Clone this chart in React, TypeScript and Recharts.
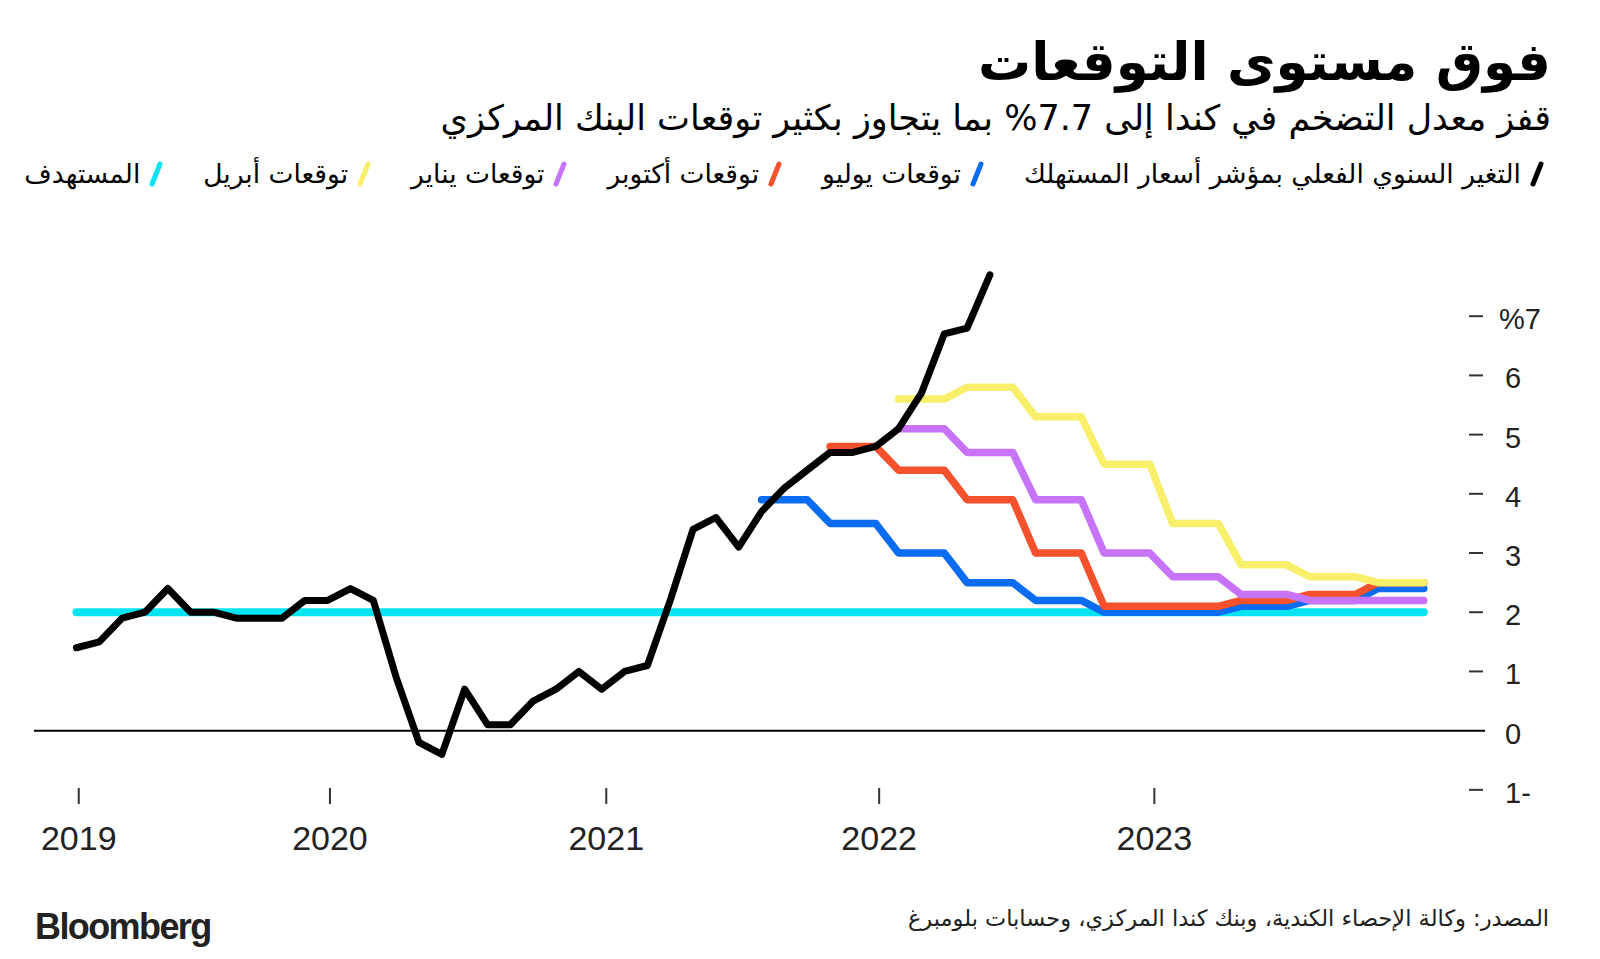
import { LineChart, Line, XAxis, YAxis, ReferenceLine } from 'recharts';

// month index 0 = Jan 2019
const actualCpi = [
  1.4, 1.5, 1.9, 2.0, 2.4, 2.0, 2.0, 1.9, 1.9, 1.9, 2.2, 2.2,
  2.4, 2.2, 0.9, -0.2, -0.4, 0.7, 0.1, 0.1, 0.5, 0.7, 1.0, 0.7,
  1.0, 1.1, 2.2, 3.4, 3.6, 3.1, 3.7, 4.1, 4.4, 4.7, 4.7, 4.8,
  5.1, 5.7, 6.7, 6.8, 7.7,
];

// quarterly projections (each value covers 3 months)
const julyStart = 30;
const julyForecast = [3.9, 3.5, 3.0, 2.5, 2.2, 2.0, 2.0, 2.1, 2.2, 2.4];
const octStart = 33;
const octForecast = [4.8, 4.4, 3.9, 3.0, 2.1, 2.1, 2.2, 2.3, 2.5];
const janStart = 36;
const janForecast = [5.1, 4.7, 3.9, 3.0, 2.6, 2.3, 2.2, 2.2];
const aprStart = 36;
const aprForecast = [5.6, 5.8, 5.3, 4.5, 3.5, 2.8, 2.6, 2.5];

const targetRate = 2;
const monthCount = 60;

const yearTicks = [0.1, 11.1, 23.2, 35.15, 47.2];
const yearLabels = ['2019', '2020', '2021', '2022', '2023'];
const yTicks = [-1, 0, 1, 2, 3, 4, 5, 6, 7];

const legendItems = [
  { label: 'التغير السنوي الفعلي بمؤشر أسعار المستهلك', color: '#000000' },
  { label: 'توقعات يوليو', color: '#0a6cf0' },
  { label: 'توقعات أكتوبر', color: '#f4512c' },
  { label: 'توقعات يناير', color: '#c874fa' },
  { label: 'توقعات أبريل', color: '#f8ef6a' },
  { label: 'المستهدف', color: '#08e3f2' },
];

const expand = (start: number, quarters: number[], m: number) => {
  if (m < start) return null;
  const q = Math.floor((m - start) / 3);
  return q < quarters.length ? quarters[q] : null;
};

const data = Array.from({ length: monthCount }, (_, m) => ({
  m,
  actual: m < actualCpi.length ? actualCpi[m] : null,
  jul: expand(julyStart, julyForecast, m),
  oct: expand(octStart, octForecast, m),
  jan: expand(janStart, janForecast, m),
  apr: expand(aprStart, aprForecast, m),
  target: targetRate,
}));

const arabic = '"DejaVu Sans", sans-serif';
const latin = '"Liberation Sans", Arial, sans-serif';

const XTick = ({ x, y, payload }: any) => {
  const idx = yearTicks.indexOf(payload.value);
  return (
    <g>
      <line x1={x} x2={x} y1={y + 10} y2={y + 26} stroke="#333" strokeWidth={2} />
      <text x={x} y={y + 72} textAnchor="middle" fontSize={34} fontFamily={latin} fill="#222">
        {yearLabels[idx]}
      </text>
    </g>
  );
};

const YTick = ({ x, y, payload }: any) => {
  const v = payload.value;
  const label = v === 7 ? '%7' : v < 0 ? `${-v}-` : `${v}`;
  return (
    <g>
      {v !== 0 && <line x1={x - 16} x2={x - 2} y1={y} y2={y} stroke="#333" strokeWidth={2} />}
      <text x={x + (v === 7 ? 14 : 20)} y={y + 13} textAnchor="start" fontSize={29} fontFamily={latin} fill="#222">
        {label}
      </text>
    </g>
  );
};

const seriesStyle = { strokeLinecap: 'round', strokeLinejoin: 'round' } as any;

export default function App() {
  return (
    <div style={{ position: 'absolute', left: 0, top: 0, width: 1600, height: 959, background: '#fff' }}>
      <div
        style={{
          position: 'absolute', right: 49, top: 31, fontFamily: arabic, fontWeight: 700,
          fontSize: 53, direction: 'rtl', color: '#000', whiteSpace: 'nowrap',
        }}
      >
        فوق مستوى التوقعات
      </div>
      <div
        style={{
          position: 'absolute', right: 49, top: 98, fontFamily: arabic, fontSize: 35,
          direction: 'rtl', color: '#000', whiteSpace: 'nowrap',
        }}
      >
        قفز معدل التضخم في كندا إلى{' '}
        <span style={{ direction: 'ltr', unicodeBidi: 'bidi-override' }}>%7.7</span>
        {' '}بما يتجاوز بكثير توقعات البنك المركزي
      </div>
      <div
        style={{
          position: 'absolute', right: 56, top: 158, display: 'flex', direction: 'rtl',
          gap: 40, fontFamily: arabic, fontSize: 26.5, color: '#000', whiteSpace: 'nowrap',
        }}
      >
        {legendItems.map((item) => (
          <span key={item.label} style={{ display: 'flex', alignItems: 'center', gap: 9 }}>
            <svg width={14} height={26}>
              <line x1={3} y1={23} x2={11} y2={3} stroke={item.color} strokeWidth={5} strokeLinecap="round" />
            </svg>
            {item.label}
          </span>
        ))}
      </div>

      <div style={{ position: 'absolute', left: 0, top: 0 }}>
        <LineChart width={1600} height={959} data={data} margin={{ top: 257, right: 15, left: 34, bottom: 81 }}>
          <XAxis
            dataKey="m"
            type="number"
            domain={[-1.86, 61.68]}
            ticks={yearTicks}
            tick={<XTick />}
            tickSize={0}
            tickMargin={0}
            axisLine={false}
            height={100}
            allowDataOverflow
          />
          <YAxis
            orientation="right"
            domain={[-0.8, 8]}
            ticks={yTicks}
            tick={<YTick />}
            tickSize={0}
            tickMargin={0}
            axisLine={false}
            width={100}
            allowDataOverflow
          />
          <ReferenceLine y={0} stroke="#000" strokeWidth={2} />
          <Line dataKey="target" stroke="#08e3f2" strokeWidth={8} dot={false} isAnimationActive={false} {...seriesStyle} />
          <Line dataKey="jul" stroke="#0a6cf0" strokeWidth={7.5} dot={false} isAnimationActive={false} {...seriesStyle} />
          <Line dataKey="oct" stroke="#f4512c" strokeWidth={7.5} dot={false} isAnimationActive={false} {...seriesStyle} />
          <Line dataKey="jan" stroke="#c874fa" strokeWidth={7.5} dot={false} isAnimationActive={false} {...seriesStyle} />
          <Line dataKey="apr" stroke="#f8ef6a" strokeWidth={7.5} dot={false} isAnimationActive={false} {...seriesStyle} />
          <Line dataKey="actual" stroke="#000" strokeWidth={7} dot={false} isAnimationActive={false} {...seriesStyle} />
        </LineChart>
      </div>

      <div
        style={{
          position: 'absolute', left: 35, top: 906, fontFamily: latin, fontWeight: 700,
          fontSize: 36, letterSpacing: -1.6, color: '#222',
        }}
      >
        Bloomberg
      </div>
      <div
        style={{
          position: 'absolute', right: 51, top: 905, fontFamily: arabic, fontSize: 22.5,
          direction: 'rtl', color: '#222', whiteSpace: 'nowrap',
        }}
      >
        المصدر: وكالة الإحصاء الكندية، وبنك كندا المركزي، وحسابات بلومبرغ
      </div>
    </div>
  );
}
